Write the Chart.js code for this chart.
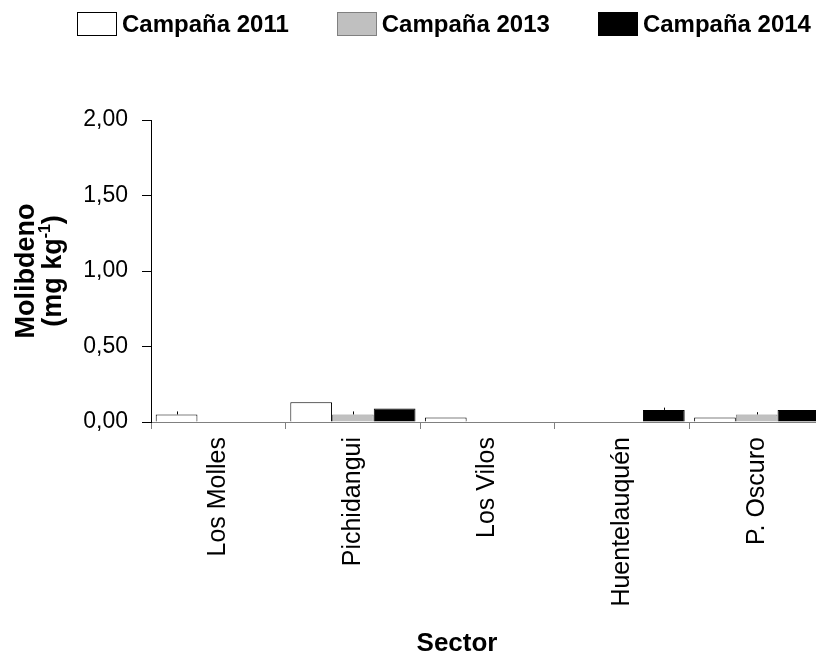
<!DOCTYPE html>
<html>
<head>
<meta charset="utf-8">
<script src="https://cdn.jsdelivr.net/npm/chart.js@4/dist/chart.umd.min.js"></script>
<style>
    html, body { margin: 0; padding: 0; background: #ffffff; overflow: hidden; }
    #wrap { position: relative; width: 830px; height: 658px; }
    #legend {
        position: absolute; top: 10px; left: 77px;
        display: flex; align-items: center;
        font-family: "Liberation Sans", Arial, sans-serif;
        font-weight: bold; font-size: 24px; color: #000;
        white-space: nowrap;
    }
    .item { display: flex; align-items: center; margin-right: 48px; }
    .box { width: 40px; height: 24px; box-sizing: border-box; border: 1px solid #000; margin-right: 5px; }
</style>
</head>
<body>
<div id="wrap">
    <div id="legend"></div>
    <canvas id="moChart" width="830" height="658"></canvas>
</div>
<script>
// Sectors and campaigns
const sectors = ['Los Molles', 'Pichidangui', 'Los Vilos', 'Huentelauquén', 'P. Oscuro'];
const campaigns = ['Campaña 2011', 'Campaña 2013', 'Campaña 2014'];

// Molibdeno (mg kg-1) per sector
const mo2011 = [0.05, 0.13, 0.03, 0, 0.03];
const mo2013 = [0, 0.05, 0, 0, 0.05];
const mo2014 = [0, 0.09, 0, 0.08, 0.08];

// error bar (upper) per sector
const err2011 = [0.02, 0, 0, 0, 0];
const err2013 = [0, 0.02, 0, 0, 0.015];
const err2014 = [0, 0, 0, 0.015, 0];

const yTickLabels = ['0,00', '0,50', '1,00', '1,50', '2,00'];

const fillColors = ['#ffffff', '#c0c0c0', '#000000'];
const borderColors = ['#000000', '#808080', '#000000'];
const FONT = '"Liberation Sans", Arial, sans-serif';

// html legend
const legendEl = document.getElementById('legend');
campaigns.forEach((name, i) => {
    const item = document.createElement('div');
    item.className = 'item';
    const box = document.createElement('span');
    box.className = 'box';
    box.style.background = fillColors[i];
    box.style.borderColor = borderColors[i];
    item.appendChild(box);
    item.appendChild(document.createTextNode(name));
    legendEl.appendChild(item);
});

// small upper error ticks on top of bars
const errorBars = {
    id: 'errorBars',
    afterDatasetsDraw(chart) {
        const ctx = chart.ctx;
        const y = chart.scales.y;
        ctx.save();
        ctx.strokeStyle = '#000';
        ctx.lineWidth = 1;
        chart.data.datasets.forEach((ds, di) => {
            const meta = chart.getDatasetMeta(di);
            meta.data.forEach((bar, i) => {
                const e = ds.errors[i];
                if (!e) return;
                const x = Math.round(bar.x) + 0.5;
                ctx.beginPath();
                ctx.moveTo(x, y.getPixelForValue(ds.data[i]));
                ctx.lineTo(x, y.getPixelForValue(ds.data[i] + e));
                ctx.stroke();
            });
        });
        ctx.restore();
    }
};

// axis titles (y title has a superscript)
const axisTitles = {
    id: 'axisTitles',
    afterDraw(chart) {
        const ctx = chart.ctx;
        const area = chart.chartArea;
        const midY = (area.top + area.bottom) / 2;
        ctx.save();
        ctx.fillStyle = '#000';
        ctx.textBaseline = 'middle';

        // y title
        ctx.translate(27, midY);
        ctx.rotate(-Math.PI / 2);
        ctx.font = 'bold 27px ' + FONT;
        ctx.textAlign = 'center';
        ctx.fillText('Molibdeno', 0, 0);
        const a = '(mg kg', sup = '-1', b = ')';
        const wa = ctx.measureText(a).width, wb = ctx.measureText(b).width;
        ctx.font = 'bold 16px ' + FONT;
        const ws = ctx.measureText(sup).width;
        const x0 = -(wa + ws + wb) / 2;
        ctx.textAlign = 'left';
        ctx.font = 'bold 27px ' + FONT;
        ctx.fillText(a, x0, 27);
        ctx.font = 'bold 16px ' + FONT;
        ctx.fillText(sup, x0 + wa, 19);
        ctx.font = 'bold 27px ' + FONT;
        ctx.fillText(b, x0 + wa + ws, 27);
        ctx.setTransform(1, 0, 0, 1, 0, 0);

        // x title
        ctx.font = 'bold 26px ' + FONT;
        ctx.textAlign = 'center';
        ctx.fillText('Sector', 457, 644);
        ctx.restore();
    }
};

new Chart(document.getElementById('moChart'), {
    type: 'bar',
    data: {
        labels: sectors,
        datasets: [
            { label: campaigns[0], data: mo2011, errors: err2011 },
            { label: campaigns[1], data: mo2013, errors: err2013 },
            { label: campaigns[2], data: mo2014, errors: err2014 }
        ].map((ds, i) => ({
            ...ds,
            backgroundColor: fillColors[i],
            borderColor: borderColors[i],
            borderWidth: 1,
            categoryPercentage: 0.93,
            barPercentage: 1.0
        }))
    },
    options: {
        responsive: false,
        animation: false,
        layout: { padding: { top: 120, right: 6, left: 0, bottom: 0 } },
        plugins: {
            legend: { display: false },
            tooltip: { enabled: false }
        },
        scales: {
            x: {
                grid: {
                    display: true,
                    drawOnChartArea: false,
                    offset: true,
                    tickLength: 7,
                    color: '#808080'
                },
                border: { color: '#808080', width: 1 },
                ticks: {
                    color: '#000',
                    font: { family: FONT, size: 25 },
                    minRotation: 90,
                    maxRotation: 90,
                    padding: 8
                },
                afterFit(scale) { scale.height = 236; }
            },
            y: {
                min: 0,
                max: 2,
                grid: {
                    display: true,
                    drawOnChartArea: false,
                    tickLength: 9,
                    color: '#000'
                },
                border: { color: '#000', width: 1 },
                ticks: {
                    stepSize: 0.5,
                    color: '#000',
                    font: { family: FONT, size: 23 },
                    padding: 14,
                    callback: (v, i) => yTickLabels[i]
                },
                afterFit(scale) { scale.width = 151; }
            }
        }
    },
    plugins: [errorBars, axisTitles]
});
</script>
</body>
</html>
